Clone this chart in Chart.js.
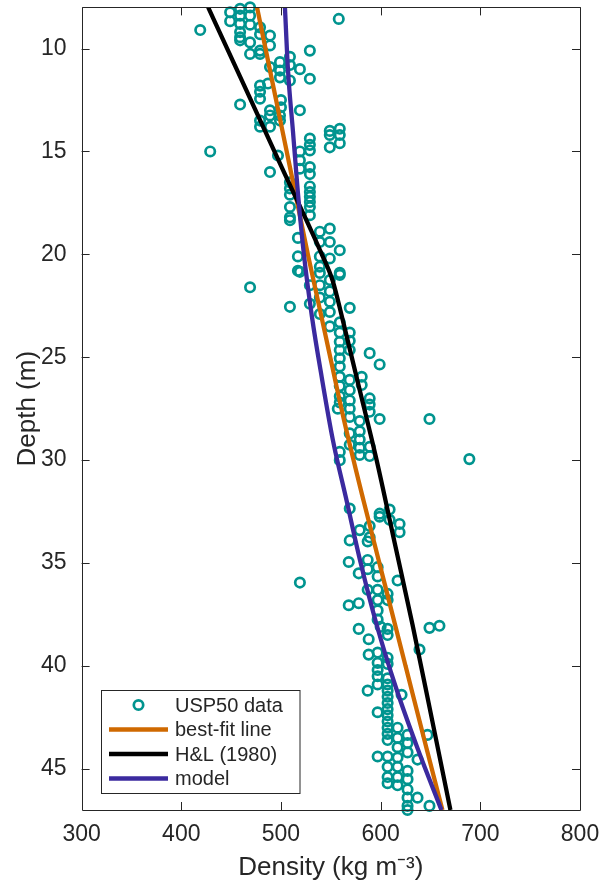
<!DOCTYPE html>
<html>
<head>
<meta charset="utf-8">
<script src="https://cdn.jsdelivr.net/npm/chart.js@4.4.1/dist/chart.umd.min.js"></script>
<style>
html, body { margin: 0; padding: 0; background: #fff; }
</style>
</head>
<body>
<canvas id="myChart" width="608" height="884"></canvas>
<script>
// USP50 firn core samples: [density kg m-3, depth m]
var usp50 = [
    [419, 9.1], [449, 8.24], [449, 8.67],
    [459, 8.07], [459, 8.4], [459, 8.8], [459, 9.2], [459, 9.45], [459, 9.6],
    [469, 8.0], [469, 8.4], [469, 8.84], [469, 9.7], [469, 10.26],
    [479, 8.97], [479, 9.3], [479, 10.1], [479, 10.26],
    [489, 9.37], [489, 9.85], [558, 8.56],
    [499, 10.66], [499, 11.07], [499, 11.4],
    [509, 10.4], [509, 10.8], [509, 11.55],
    [519, 11.0], [529, 10.1], [529, 11.47], [489, 10.9],
    [479, 11.8], [479, 12.1], [479, 12.44], [487, 11.7],
    [459, 12.72], [500, 12.5], [500, 12.85], [519, 13.0],
    [489, 13.0], [489, 13.25], [479, 13.5], [479, 13.8], [499, 13.25], [499, 13.5], [489, 13.8],
    [529, 14.37], [549, 14.0], [559, 13.9], [559, 14.2], [549, 14.2],
    [429, 15.0], [529, 14.68], [529, 14.95], [549, 14.8], [559, 14.6],
    [489, 16.0], [497, 15.2], [519, 15.0], [519, 15.43], [519, 15.84], [529, 15.76], [529, 16.1],
    [509, 16.5], [509, 16.8], [509, 17.1],
    [529, 16.7], [529, 16.97], [529, 17.2], [529, 17.45], [529, 17.7],
    [509, 17.7], [509, 18.2], [509, 18.34], [529, 18.1], [517, 19.2],
    [539, 18.9], [549, 18.75], [539, 19.4], [549, 19.4], [559, 19.8],
    [517, 20.1], [517, 20.8], [539, 20.1], [539, 20.6], [549, 20.2], [559, 20.9],
    [469, 21.6], [509, 22.55], [519, 20.85], [529, 21.5], [529, 22.4],
    [539, 20.9], [539, 21.5], [539, 22.1], [539, 22.9],
    [549, 21.25], [549, 21.8], [549, 22.3], [549, 22.8], [549, 23.5],
    [559, 21.0], [569, 22.6],
    [559, 23.3], [559, 23.8], [559, 24.25], [559, 24.65], [559, 25.05], [559, 25.45], [559, 25.95], [559, 26.4], [559, 26.9], [559, 27.2],
    [569, 23.8], [569, 24.2], [569, 24.65], [569, 26.1], [569, 26.6], [569, 27.1],
    [581, 25.95], [581, 26.35], [589, 24.8], [599, 25.35], [589, 27.0], [589, 27.3],
    [557, 27.5], [569, 27.5], [569, 27.9],
    [579, 28.1], [579, 28.6], [579, 29.0], [579, 29.4], [579, 29.75],
    [589, 27.65], [589, 29.35], [589, 29.8], [599, 28.0],
    [569, 28.7], [569, 29.25], [559, 29.6], [559, 30.0],
    [649, 28.0], [689, 29.95],
    [569, 32.35], [579, 33.4], [569, 33.9],
    [599, 32.6], [599, 32.75], [609, 32.4], [609, 32.9], [619, 33.1], [619, 33.5],
    [589, 33.2], [589, 33.75],
    [568, 34.95], [578, 35.5], [568, 37.05], [578, 36.95],
    [587, 33.95], [587, 34.85], [587, 35.3], [597, 35.2], [597, 35.65], [597, 36.3], [597, 36.8], [587, 36.3],
    [519, 35.95], [617, 35.85], [607, 36.5], [607, 36.8],
    [597, 37.3], [597, 37.75], [600, 38.1], [607, 38.2], [607, 38.5],
    [578, 38.2], [588, 38.7], [649, 38.15], [659, 38.05], [639, 39.2], [588, 39.45],
    [597, 39.35], [597, 39.85], [597, 40.2], [597, 40.5], [607, 39.6], [607, 39.9],
    [587, 41.2], [597, 40.9], [597, 42.25],
    [607, 40.6], [607, 40.9], [607, 41.2], [607, 41.5], [607, 41.8], [607, 42.1], [607, 42.4], [607, 42.7], [607, 43.0], [607, 43.3], [607, 43.6],
    [621, 41.4],
    [617, 43.0], [617, 43.5], [617, 43.95], [617, 44.45], [617, 44.9], [617, 45.4], [617, 45.8],
    [627, 43.35], [627, 43.75], [627, 44.2], [627, 45.1], [627, 45.5], [627, 46.0], [627, 46.4],
    [597, 44.4], [607, 44.4], [607, 44.9], [607, 45.4], [607, 45.7],
    [647, 43.35], [637, 44.55], [637, 46.4], [649, 46.8], [627, 46.8], [627, 47.0]
];

var fitDepth = [8, 12, 16, 20, 24, 28, 32, 36, 40, 44, 47];
var fitDensity = [476, 493, 510, 527, 545, 563, 583, 604, 625, 646, 662];

var hlDepth = [8, 12, 16, 20, 21.3, 23, 26, 30, 34, 38, 42, 47];
var hlDensity = [427, 465, 503, 541, 552, 561, 576, 596, 614, 632, 649, 670];

var modelDepth = [8, 11, 14, 17, 20, 23, 26, 29, 32, 35, 38, 41, 44, 47];
var modelDensity = [504, 507, 512, 517, 523, 531, 541, 552, 566, 580, 596, 615, 637, 661];

var xTicks = [300, 400, 500, 600, 700, 800];
var yTicks = [10, 15, 20, 25, 30, 35, 40, 45];
var legendLabels = ['USP50 data', 'best-fit line', 'H&L (1980)', 'model'];

var fontFamily = '"Liberation Sans", Arial, Helvetica, sans-serif';
var textColor = '#262626';
var teal = '#00948f';
var orange = '#cf6900';
var black = '#000000';
var purple = '#3b2a9f';

function toPoints(xs, ys) {
    return ys.map((y, i) => ({ x: xs[i], y: y }));
}

// matlab style box with ticks pointing inward
var boxPlugin = {
    id: 'axesBox',
    afterDatasetsDraw(chart) {
        let ctx = chart.ctx;
        let a = chart.chartArea;
        let xs = chart.scales.x, ys = chart.scales.y;
        let len = 8;
        ctx.save();
        ctx.strokeStyle = textColor;
        ctx.lineWidth = 1;
        ctx.beginPath();
        ctx.rect(Math.round(a.left) + 0.5, Math.round(a.top) + 0.5,
                 Math.round(a.right - a.left), Math.round(a.bottom - a.top));
        xTicks.forEach(v => {
            let px = Math.round(xs.getPixelForValue(v)) + 0.5;
            ctx.moveTo(px, a.bottom); ctx.lineTo(px, a.bottom - len);
            ctx.moveTo(px, a.top); ctx.lineTo(px, a.top + len);
        });
        yTicks.forEach(v => {
            let py = Math.round(ys.getPixelForValue(v)) + 0.5;
            ctx.moveTo(a.left, py); ctx.lineTo(a.left + len, py);
            ctx.moveTo(a.right, py); ctx.lineTo(a.right - len, py);
        });
        ctx.stroke();
        ctx.restore();
    }
};

var legendPlugin = {
    id: 'boxLegend',
    afterDraw(chart) {
        let ctx = chart.ctx;
        let left = 101.5, top = 690.5, w = 198.5, h = 103;
        ctx.save();
        ctx.fillStyle = '#ffffff';
        ctx.fillRect(left, top, w, h);
        ctx.strokeStyle = textColor;
        ctx.lineWidth = 1;
        ctx.strokeRect(left, top, w, h);
        ctx.font = '20px ' + fontFamily;
        ctx.textBaseline = 'middle';
        ctx.textAlign = 'left';
        legendLabels.forEach((label, i) => {
            let ds = chart.data.datasets.find(d => d.label === label);
            let y = top + 14.5 + i * 24.5;
            ctx.strokeStyle = ds.borderColor;
            ctx.lineWidth = ds.borderWidth;
            ctx.beginPath();
            if (ds.showLine) {
                ctx.moveTo(109, y); ctx.lineTo(168, y);
            } else {
                ctx.arc(138.5, y, ds.pointRadius, 0, 2 * Math.PI);
            }
            ctx.stroke();
            ctx.fillStyle = textColor;
            ctx.fillText(label, 175, y + 1);
        });
        ctx.restore();
    }
};

var ctx = document.getElementById('myChart').getContext('2d');

window.myChart = new Chart(ctx, {
    type: 'scatter',
    data: {
        datasets: [{
            label: 'model',
            data: toPoints(modelDensity, modelDepth),
            showLine: true,
            borderColor: purple,
            borderWidth: 4.3,
            pointRadius: 0,
            cubicInterpolationMode: 'monotone',
            order: 0
        }, {
            label: 'H&L (1980)',
            data: toPoints(hlDensity, hlDepth),
            showLine: true,
            borderColor: black,
            borderWidth: 4.3,
            pointRadius: 0,
            cubicInterpolationMode: 'monotone',
            order: 1
        }, {
            label: 'best-fit line',
            data: toPoints(fitDensity, fitDepth),
            showLine: true,
            borderColor: orange,
            borderWidth: 4.3,
            pointRadius: 0,
            cubicInterpolationMode: 'monotone',
            order: 2
        }, {
            label: 'USP50 data',
            data: usp50.map(p => ({ x: p[0], y: p[1] })),
            showLine: false,
            pointStyle: 'circle',
            pointRadius: 4.7,
            borderWidth: 2.7,
            borderColor: teal,
            backgroundColor: 'rgba(0,0,0,0)',
            clip: false,
            order: 3
        }]
    },
    options: {
        responsive: false,
        animation: false,
        layout: {
            padding: { top: 7, right: 28, left: 0, bottom: 0 }
        },
        plugins: {
            legend: { display: false },
            tooltip: { enabled: false }
        },
        scales: {
            x: {
                type: 'linear',
                min: 300,
                max: 800,
                grid: { display: false, drawTicks: false },
                border: { display: false },
                afterBuildTicks: s => { s.ticks = xTicks.map(v => ({ value: v })); },
                afterFit: s => {
                    s.height = 74;
                    s.paddingLeft = 0;
                    s.paddingRight = 0;
                },
                ticks: {
                    font: { family: fontFamily, size: 23 },
                    color: textColor,
                    padding: 11,
                    maxRotation: 0
                },
                title: {
                    display: true,
                    text: 'Density (kg m\u207B\u00B3)',
                    font: { family: fontFamily, size: 26 },
                    color: textColor,
                    padding: { top: 0, bottom: 1 }
                }
            },
            y: {
                type: 'linear',
                reverse: true,
                min: 8,
                max: 47,
                grid: { display: false, drawTicks: false },
                border: { display: false },
                afterBuildTicks: s => { s.ticks = yTicks.map(v => ({ value: v })); },
                afterFit: s => {
                    s.width = 81.6;
                    s.paddingTop = 0;
                    s.paddingBottom = 0;
                },
                ticks: {
                    font: { family: fontFamily, size: 23 },
                    color: textColor,
                    padding: 15
                },
                title: {
                    display: true,
                    text: 'Depth (m)',
                    font: { family: fontFamily, size: 26 },
                    color: textColor,
                    padding: { top: 12, bottom: 0 }
                }
            }
        }
    },
    plugins: [boxPlugin, legendPlugin]
});
</script>
</body>
</html>
